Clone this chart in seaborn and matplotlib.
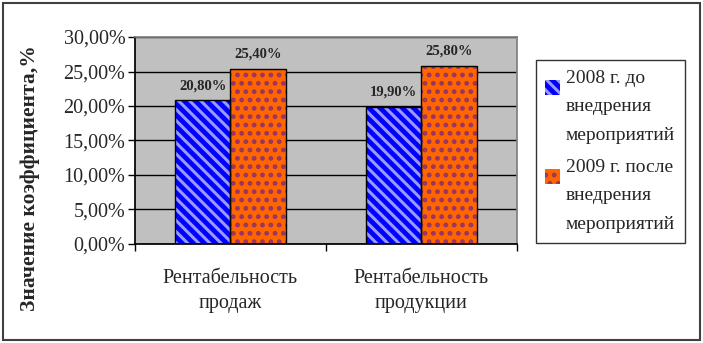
import matplotlib
matplotlib.use("Agg")
import matplotlib.pyplot as plt
from matplotlib.patches import Rectangle
from matplotlib.legend_handler import HandlerPatch
import matplotlib.ticker as mticker
import seaborn as sns
import pandas as pd

categories = ["Рентабельность\nпродаж", "Рентабельность\nпродукции"]
series_names = ["2008 г. до\nвнедрения\nмероприятий", "2009 г. после\nвнедрения\nмероприятий"]
values_2008 = [20.80, 19.90]
values_2009 = [25.40, 25.80]
yticks = [0, 5, 10, 15, 20, 25, 30]

df = pd.DataFrame({
    "cat": categories * 2,
    "series": [series_names[0]] * 2 + [series_names[1]] * 2,
    "val": values_2008 + values_2009,
})

sns.set_theme(style="white")
plt.rcParams["font.family"] = ["Liberation Serif", "DejaVu Serif"]
plt.rcParams["hatch.linewidth"] = 2.2

fig = plt.figure(figsize=(7.03, 3.43), dpi=100)
ax = fig.add_axes([0.192, 0.289, 0.543, 0.603])
ax.set_facecolor("#C0C0C0")

face = ["#0000FF", "#FF6600"]
hatchcol = ["#9999FF", "#993366"]
hatches = ["\\\\\\", ".."]

sns.barplot(data=df, x="cat", y="val", hue="series", hue_order=series_names,
            palette=face, width=0.58, ax=ax, legend=False, saturation=1)

for i, container in enumerate(ax.containers):
    for p in container:
        p.set_hatch(hatches[i])
        p.set_edgecolor(hatchcol[i])
        p.set_linewidth(0)
        ax.add_patch(Rectangle(p.get_xy(), p.get_width(), p.get_height(),
                               fill=False, edgecolor="black", lw=1.0, zorder=p.get_zorder() + 0.1))
    labels = [f"{v:.2f}%".replace(".", ",") for v in container.datavalues]
    ax.bar_label(container, labels=labels, padding=6, fontsize=10.5, fontweight="bold")

ax.set_ylim(0, 30)
ax.set_xlim(-0.5, 1.5)
ax.set_yticks(yticks)
ax.yaxis.set_major_formatter(mticker.FuncFormatter(lambda v, _: f"{v:.2f}%".replace(".", ",")))
ax.grid(axis="y", color="black", lw=1.0)
ax.set_axisbelow(True)
for s in ["top", "right"]:
    ax.spines[s].set_color("#808080")
ax.spines["left"].set_color("black")
ax.spines["bottom"].set_color("black")
ax.tick_params(axis="y", length=5, width=1, color="black", labelsize=14.5, pad=2, left=True)
ax.tick_params(axis="x", which="major", length=0, labelsize=14.5, pad=18)
for t in ax.get_xticklabels():
    t.set_linespacing(1.45)
ax.set_xticks([-0.5, 0.5, 1.5], minor=True)
ax.tick_params(axis="x", which="minor", length=5, width=1, color="black", bottom=True)
ax.set_xlabel("")
ax.set_ylabel("Значение коэффициента,%", fontsize=15.5, fontweight="bold")
ax.yaxis.set_label_coords(-0.25, 0.32)


def top_square(legend, orig_handle, xdescent, ydescent, width, height, fontsize):
    s = 0.75 * fontsize
    return Rectangle((-xdescent, -ydescent + height - s - 0.1 * fontsize), s, s)


handles = []
for i in range(2):
    handles.append(Rectangle((0, 0), 1, 1, facecolor=face[i], hatch=hatches[i],
                             edgecolor=hatchcol[i], lw=0))
leg = fig.legend(handles, series_names, loc="upper left", bbox_to_anchor=(0.762, 0.825),
                 frameon=True, fancybox=False, fontsize=14, handlelength=0.8, handleheight=4.4,
                 handletextpad=0.25, labelspacing=0.75, borderpad=0.5, borderaxespad=0,
                 edgecolor="black",
                 handler_map={Rectangle: HandlerPatch(patch_func=top_square)})
leg.get_frame().set_linewidth(1.0)
for t in leg.get_texts():
    t.set_linespacing(1.9)

fig.patches.append(Rectangle((0.004, 0.008), 0.992, 0.984, transform=fig.transFigure,
                             fill=False, edgecolor="#404040", lw=1.5))

fig.savefig("out.png", dpi=100)
